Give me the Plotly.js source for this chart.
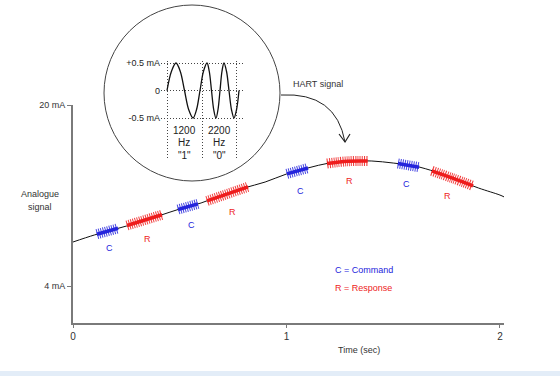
<!DOCTYPE html>
<html><head><meta charset="utf-8">
<script src="https://cdn.plot.ly/plotly-3.0.1.min.js"></script>
<style>html,body{margin:0;padding:0;background:#fff}#c{width:560px;height:376px}</style>
</head><body><div id="c"></div>
<script>
// ---- main analogue signal (time in s, current in mA)
const curveT  = [0, 0.1, 0.2, 0.3, 0.4, 0.5, 0.6, 0.7, 0.8, 0.9, 1.0, 1.1, 1.2, 1.3, 1.4, 1.5, 1.6, 1.7, 1.8, 1.9, 2.0, 2.02];
const curveMA = [7.89, 8.51, 9.04, 9.57, 10.19, 10.81, 11.34, 12.04, 12.66, 13.19, 13.90, 14.43, 14.87, 15.05, 15.05, 14.87, 14.61, 14.08, 13.37, 12.66, 12.04, 11.87];

// ---- HART bursts along the curve
const segKind = ['C', 'R', 'C', 'R', 'C', 'R', 'C', 'R'];
const segT  = [[0.112, 0.211], [0.253, 0.417], [0.492, 0.585], [0.628, 0.820], [1.002, 1.101], [1.19, 1.288, 1.38], [1.522, 1.621], [1.681, 1.775, 1.874]];
const segMA = [[8.58, 9.10], [9.35, 10.30], [10.76, 11.26], [11.52, 12.77], [13.91, 14.43], [14.83, 15.03, 15.05], [14.83, 14.50], [14.18, 13.55, 12.85]];
const labelT  = [0.173, 0.351, 0.553, 0.745, 1.068, 1.293, 1.564, 1.756];
const labelMA = [7.36, 8.15, 9.39, 10.54, 12.40, 13.28, 13.01, 11.95];

// ---- axis ticks
const xTicks = [0, 1, 2];
const yTickVals = [20, 4];
const yTickText = ['20 mA', '4 mA'];

// ---- inset FSK wave (time in ms, mA)
const fskT  = [0, 0.104, 0.208, 0.306, 0.405, 0.503, 0.602, 0.683, 0.764, 0.845, 0.926, 0.978, 1.03, 1.082, 1.134, 1.18, 1.227, 1.273, 1.319, 1.377, 1.435, 1.493, 1.551, 1.609, 1.667];
const fskMA = [0, 0.35, 0.5, 0.35, 0, -0.35, -0.5, -0.35, 0, 0.35, 0.5, 0.35, 0, -0.35, -0.5, -0.35, 0, 0.35, 0.5, 0.35, 0, -0.35, -0.5, -0.35, 0];
const fskLevels = [0.5, 0, -0.5];
const fskLevelText = ['+0.5 mA', '0', '-0.5 mA'];
const bitEdges = [0, 0.833, 1.6];
const bitFreq = ['1200', '2200'];
const bitValue = ['"1"', '"0"'];

const W = 560, H = 376;
const px = x => x / W, py = y => 1 - y / H;
const P = (x, y) => (x / W).toFixed(4) + ',' + (1 - y / H).toFixed(4);

const BLUE = '#2424dc', RED = '#ee1c1c';
const FONT = 'Liberation Sans, Arial, sans-serif';

const traces = [{
  x: curveT, y: curveMA, type: 'scatter', mode: 'lines',
  line: {color: '#111', width: 1, shape: 'spline'}, xaxis: 'x', yaxis: 'y'
}];
segKind.forEach((k, i) => {
  const col = k === 'C' ? BLUE : RED;
  traces.push({x: segT[i], y: segMA[i], type: 'scatter', mode: 'lines', opacity: 0.85,
    line: {color: col, width: 10, dash: '1px,1.2px', shape: 'spline'}, xaxis: 'x', yaxis: 'y'});
  traces.push({x: segT[i], y: segMA[i], type: 'scatter', mode: 'lines',
    line: {color: col, width: 3.5, shape: 'spline'}, xaxis: 'x', yaxis: 'y'});
});
traces.push({x: fskT, y: fskMA, type: 'scatter', mode: 'lines',
  line: {color: '#111', width: 1.3, shape: 'spline', smoothing: 1.0}, xaxis: 'x2', yaxis: 'y2'});

const annotations = [];
segKind.forEach((k, i) => {
  annotations.push({x: labelT[i], y: labelMA[i], xref: 'x', yref: 'y', text: k, showarrow: false,
    font: {family: FONT, size: 9, color: k === 'C' ? BLUE : RED}});
});
const txt = (x, y, t, opt = {}) => annotations.push(Object.assign({
  x: px(x), y: py(y), xref: 'paper', yref: 'paper', text: t, showarrow: false,
  font: {family: FONT, size: 9, color: '#333'}, xanchor: 'center', yanchor: 'middle'}, opt));
txt(40, 194, 'Analogue');
txt(40, 207, 'signal');
txt(359, 350, 'Time (sec)');
txt(318, 84, 'HART signal');
txt(333, 270, 'C = Command', {xanchor: 'left', font: {family: FONT, size: 9, color: BLUE}});
txt(333, 288, 'R = Response', {xanchor: 'left', font: {family: FONT, size: 9, color: RED}});
const cellX = [184, 219];
bitFreq.forEach((f, i) => {
  txt(cellX[i], 131, f, {font: {family: FONT, size: 10, color: '#222'}});
  txt(cellX[i], 142, 'Hz', {font: {family: FONT, size: 10, color: '#222'}});
  txt(cellX[i], 155, bitValue[i], {font: {family: FONT, size: 10, color: '#222'}});
});

const shapes = [
  {type: 'circle', xref: 'paper', yref: 'paper', x0: px(104), x1: px(280), y0: py(181), y1: py(5),
   line: {color: '#444', width: 1}, layer: 'below'},
  {type: 'path', xref: 'paper', yref: 'paper', path: 'M' + P(281, 95) + ' Q' + P(336, 92) + ' ' + P(345, 142),
   line: {color: '#222', width: 1}},
  {type: 'path', xref: 'paper', yref: 'paper', path: 'M' + P(339, 134) + ' L' + P(345, 142) + ' L' + P(350, 134),
   line: {color: '#222', width: 1.2}},
  {type: 'rect', xref: 'paper', yref: 'paper', x0: 0, x1: 1, y0: 0, y1: py(371),
   fillcolor: '#e3edf8', line: {width: 0}, layer: 'below'}
];

const layout = {
  width: W, height: H, margin: {l: 0, r: 0, t: 0, b: 0},
  paper_bgcolor: '#fff', plot_bgcolor: 'rgba(0,0,0,0)', showlegend: false, hovermode: false,
  xaxis: {domain: [px(73), px(504)], range: [0, 2.019], anchor: 'y',
    showline: true, linecolor: '#7a7a7a', linewidth: 2, showgrid: false, zeroline: false,
    tickvals: xTicks, ticktext: xTicks.map(String), ticks: 'outside', ticklen: 3, tickcolor: '#7a7a7a',
    tickfont: {family: FONT, size: 10, color: '#333'}},
  yaxis: {domain: [py(323), py(105)], range: [0.73, 20], anchor: 'x',
    showline: true, linecolor: '#7a7a7a', linewidth: 2, showgrid: false, zeroline: false,
    tickvals: yTickVals, ticktext: yTickText, ticks: 'outside', ticklen: 4, tickcolor: '#7a7a7a',
    tickfont: {family: FONT, size: 9, color: '#333'}},
  xaxis2: {domain: [px(161), px(243)], range: [(161 - 167) / 43.2, (243 - 167) / 43.2], anchor: 'y2',
    showline: false, zeroline: false, showticklabels: false, ticks: '',
    showgrid: true, tickvals: bitEdges, griddash: '1px,2px', gridcolor: '#444', gridwidth: 1},
  yaxis2: {domain: [py(158), py(61)], range: [-0.5 - (158 - 118) / 55, 0.5 + (63 - 61) / 55], anchor: 'x2',
    showline: false, zeroline: false, ticks: '',
    showgrid: true, tickvals: fskLevels, ticktext: fskLevelText, griddash: '1px,2px', gridcolor: '#444', gridwidth: 1,
    tickfont: {family: FONT, size: 9, color: '#222'}},
  shapes: shapes, annotations: annotations
};
Plotly.newPlot('c', traces, layout, {staticPlot: true, displayModeBar: false});
</script></body></html>
